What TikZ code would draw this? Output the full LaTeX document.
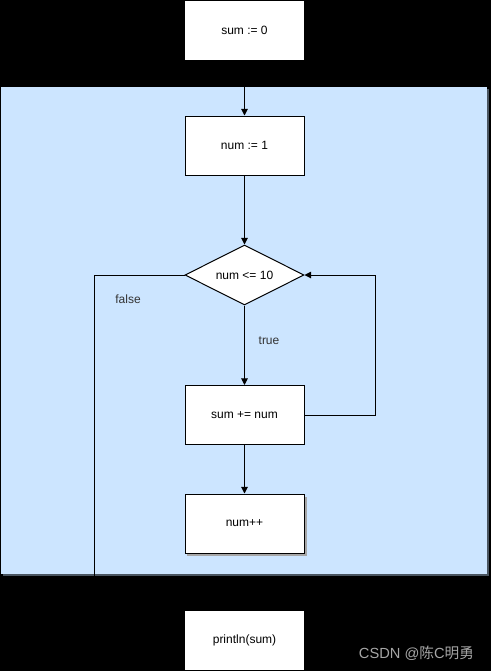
\documentclass[tikz,border=0pt]{standalone}
\usepackage{fontspec}
\setmainfont{Liberation Sans}
\newfontfamily\cjk{Noto Sans CJK SC}
\usetikzlibrary{shapes.geometric,arrows.meta}
\definecolor{loopblue}{HTML}{CCE5FF}
\definecolor{shadowgray}{HTML}{4A5560}
\tikzset{
  box/.style={draw=black, fill=white, line width=0.75pt, minimum width=89.25pt, minimum height=44.25pt, inner sep=0pt, font=\fontsize{9}{10}\selectfont},
  plainbox/.style={box, draw=none},
  decision/.style={diamond, draw=black, fill=white, line width=0.75pt, minimum width=89.25pt, minimum height=45pt, inner sep=0pt, aspect=2, font=\fontsize{9}{10}\selectfont},
  conn/.style={draw=black, line width=0.75pt, -{Triangle[length=5pt,width=5pt]}},
  line/.style={draw=black, line width=0.75pt},
  lbl/.style={font=\fontsize{9}{10}\selectfont, inner sep=0pt},
}
\begin{document}
\begin{tikzpicture}[x=0.75pt, y=-0.75pt]
\fill[black] (0,0) rectangle (491,671);
\useasboundingbox (0,0) rectangle (491,671);
% loop region
\fill[shadowgray] (3,89) rectangle (489,576);
\fill[loopblue] (1,87) rectangle (487,574);
% nodes
\node[plainbox] (init) at (244.5,30.5) {sum := 0};
\node[box] (n1) at (244.5,145.5) {num := 1};
\node[decision] (cond) at (244.5,275) {num <= 10};
\node[box] (add) at (244.5,415) {sum += num};
\fill[gray!70] (187,497) rectangle (307,556);
\node[box] (inc) at (244.5,523.5) {num++};
\node[plainbox] (out) at (244.5,640.5) {println(sum)};
\node[lbl, text=black!80] (f) at (128,299) {false};
\node[lbl, text=black!80] (t) at (269,341) {true};
\node[font=\fontsize{11}{12}\selectfont, text=white!65!black, inner sep=0pt] (wm) at (416.5,653) {CSDN @{\cjk 陈}C{\cjk 明勇}};
% connectors
\coordinate (fc) at (94,275);
\coordinate (fd) at (94,640.5);
\coordinate (lr) at (375,415);
\coordinate (lu) at (375,275);
\draw[conn] (init) -- (n1);
\draw[conn] (n1) -- (cond);
\draw[conn] (cond) -- (add);
\draw[conn] (add) -- (inc);
\draw[conn] (add.east) -- (lr) -- (lu) -- (cond.east);
\draw[conn] (cond.west) -- (fc) -- (fd) -- (out.west);
\end{tikzpicture}
\end{document}
